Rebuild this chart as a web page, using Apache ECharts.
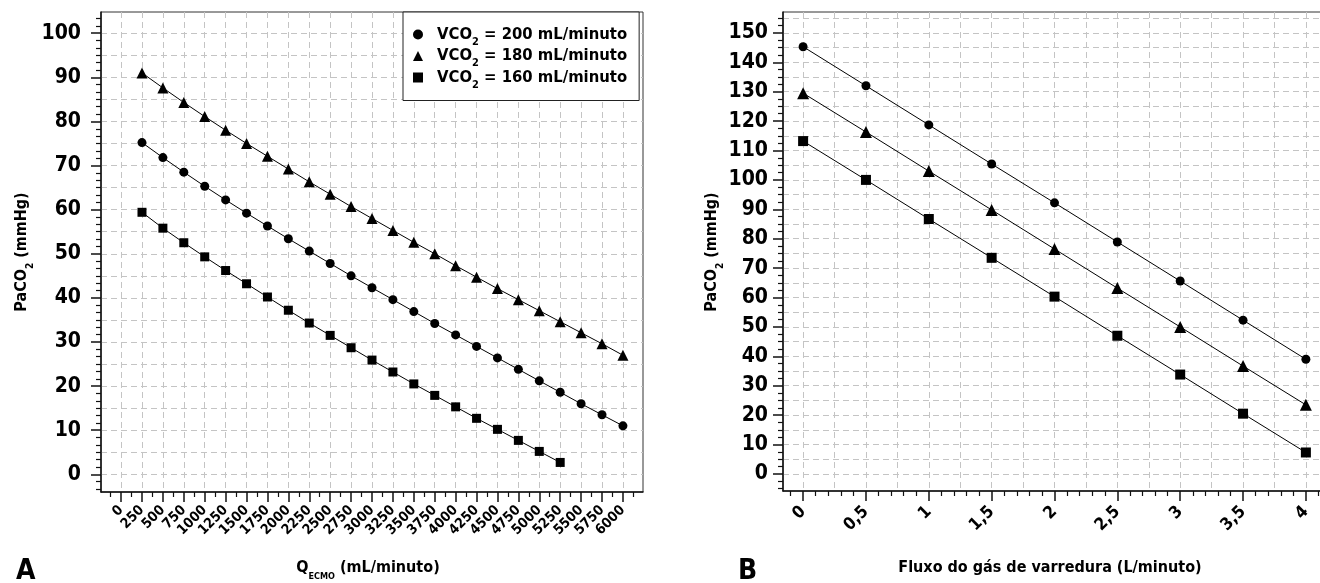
<!DOCTYPE html>
<html>
<head>
<meta charset="utf-8">
<script src="https://cdn.jsdelivr.net/npm/echarts@6/dist/echarts.min.js"></script>
<style>
html, body { margin: 0; padding: 0; background: #fff; }
#chart { width: 1320px; height: 583px; }
</style>
</head>
<body>
<div id="chart"></div>
<script>
// painel A: PaCO2 x fluxo de sangue (Q ECMO)
var qEcmo = [250, 500, 750, 1000, 1250, 1500, 1750, 2000, 2250, 2500, 2750, 3000,
    3250, 3500, 3750, 4000, 4250, 4500, 4750, 5000, 5250, 5500, 5750, 6000];
var ecmo200 = [75.2, 71.8, 68.5, 65.3, 62.2, 59.2, 56.3, 53.4, 50.6, 47.8, 45.0, 42.3,
    39.6, 36.9, 34.2, 31.6, 29.0, 26.4, 23.8, 21.2, 18.6, 16.0, 13.5, 11.0];
var ecmo180 = [91.0, 87.6, 84.3, 81.1, 78.0, 75.0, 72.1, 69.2, 66.3, 63.5, 60.7, 58.0,
    55.3, 52.6, 50.0, 47.3, 44.7, 42.1, 39.6, 37.1, 34.6, 32.1, 29.6, 27.0];
var ecmo160 = [59.4, 55.8, 52.5, 49.3, 46.2, 43.2, 40.2, 37.2, 34.3, 31.5, 28.7, 25.9,
    23.2, 20.5, 17.9, 15.3, 12.7, 10.2, 7.7, 5.2, 2.7];

// painel B: PaCO2 x fluxo do gas de varredura
var sweep = [0, 0.5, 1, 1.5, 2, 2.5, 3, 3.5, 4];
var sweep200 = [145.3, 132.0, 118.7, 105.4, 92.2, 78.9, 65.6, 52.3, 39.0];
var sweep180 = [129.5, 116.3, 103.0, 89.8, 76.5, 63.2, 50.0, 36.7, 23.5];
var sweep160 = [113.2, 100.0, 86.7, 73.5, 60.3, 47.0, 33.8, 20.5, 7.3];

var names = ['VCO2 = 200 mL/minuto', 'VCO2 = 180 mL/minuto', 'VCO2 = 160 mL/minuto'];

// rotulos dos eixos
var ticksAx = [0, 250, 500, 750, 1000, 1250, 1500, 1750, 2000, 2250, 2500, 2750, 3000,
    3250, 3500, 3750, 4000, 4250, 4500, 4750, 5000, 5250, 5500, 5750, 6000];
var ticksAy = [0, 10, 20, 30, 40, 50, 60, 70, 80, 90, 100];
var ticksBx = [0, 0.5, 1, 1.5, 2, 2.5, 3, 3.5, 4];
var ticksBy = [0, 10, 20, 30, 40, 50, 60, 70, 80, 90, 100, 110, 120, 130, 140, 150];

var FONT = "'DejaVu Sans Condensed', 'Liberation Sans Narrow', Roboto, sans-serif";

function steps(a, b, step, skip) {
    var out = [];
    var n = Math.round((b - a) / step);
    for (var i = 0; i <= n; i++) {
        var v = +(a + i * step).toFixed(4);
        if (skip && Math.abs(v / skip - Math.round(v / skip)) < 1e-6) continue;
        out.push(v);
    }
    return out;
}

function pairs(xs, ys) {
    var arr = [];
    for (var i = 0; i < ys.length; i++) {
        arr.push([xs[i], ys[i]]);
    }
    return arr;
}

// subscrito: texto principal centrado numa linha alta, indice colado embaixo
function richSet(size, lh) {
    var base = { fontWeight: 'bold', fontFamily: FONT, color: '#000' };
    return {
        m: Object.assign({ fontSize: size, lineHeight: lh }, base),
        f: Object.assign({ fontSize: size, lineHeight: lh, padding: [0, 0, 0, 9] }, base),
        s: Object.assign({ fontSize: Math.round(size * 0.65), lineHeight: 10, verticalAlign: 'bottom' }, base),
        e: Object.assign({ fontSize: Math.round(size * 0.55), lineHeight: 9, verticalAlign: 'bottom' }, base)
    };
}
var richLegend = richSet(16.5, 26);
var richTitle = richSet(16, 26);

var gA = { left: 101, top: 12, width: 542, height: 480 };
var gB = { left: 783, top: 12, width: 543, height: 479 };
var rangeA = { x: [-240, 6240], y: [-4, 104.8] };
var rangeB = { x: [-0.16, 4.16], y: [-5.8, 157.1] };

function grid(g, border) {
    return {
        left: g.left, top: g.top, width: g.width, height: g.height,
        outerBoundsMode: 'none', containLabel: false,
        show: border, borderColor: '#333', borderWidth: 1, backgroundColor: 'transparent'
    };
}

function baseAxis(idx, ext) {
    return {
        type: 'value', gridIndex: idx, min: ext[0], max: ext[1],
        axisLine: { show: false, onZero: false }, axisTick: { show: false },
        axisLabel: { show: false }, splitLine: { show: false }, minorTick: { show: false }
    };
}

function mainAxis(idx, ext, ticks, labelOpt) {
    var ax = baseAxis(idx, ext);
    ax.axisLine = { show: true, onZero: false, lineStyle: { color: '#111', width: 1.5 } };
    ax.axisTick = { show: true, customValues: ticks, length: 10, lineStyle: { color: '#111', width: 1.5 } };
    ax.axisLabel = Object.assign({
        show: true, customValues: ticks, color: '#000', fontWeight: 'bold', fontFamily: FONT,
        formatter: function (v) { return String(v); }
    }, labelOpt);
    return ax;
}

function minorAxis(idx, ext, ticks) {
    var ax = baseAxis(idx, ext);
    ax.axisTick = { show: true, customValues: ticks, length: 5, lineStyle: { color: '#111', width: 1.2 } };
    return ax;
}

function gridAxis(idx, ext, ticks, step) {
    var ax = baseAxis(idx, ext);
    ax.minInterval = step;
    ax.maxInterval = step;
    ax.axisTick = { show: false, customValues: ticks };
    ax.splitLine = { show: true, lineStyle: { color: '#c4c4c4', width: 1, type: [6, 4] } };
    return ax;
}

var commaFmt = function (v) { return String(v).replace('.', ','); };

var xAxes = [
    mainAxis(0, rangeA.x, ticksAx, { rotate: 45, fontSize: 14, margin: 16 }),
    minorAxis(1, rangeA.x, steps(-125, 6125, 250)),
    gridAxis(2, rangeA.x, ticksAx, 250),
    mainAxis(3, rangeB.x, ticksBx, { rotate: 45, fontSize: 17, margin: 18, formatter: commaFmt }),
    minorAxis(4, rangeB.x, steps(-0.1, 4.1, 0.1, 0.5)),
    gridAxis(5, rangeB.x, steps(0, 4, 0.25), 0.25)
];
var yAxes = [
    mainAxis(0, rangeA.y, ticksAy, { fontSize: 21, margin: 20 }),
    minorAxis(1, rangeA.y, steps(-10 / 3, 310 / 3, 5 / 3, 10)),
    gridAxis(2, rangeA.y, steps(0, 100, 5), 5),
    mainAxis(3, rangeB.y, ticksBy, { fontSize: 21, margin: 15 }),
    minorAxis(4, rangeB.y, steps(-5, 155, 2.5, 10)),
    gridAxis(5, rangeB.y, steps(0, 155, 5), 5)
];

function line(name, data, axis, symbol, size) {
    return {
        name: name, type: 'line', xAxisIndex: axis, yAxisIndex: axis,
        data: data, symbol: symbol, symbolSize: size, showAllSymbol: true,
        lineStyle: { color: '#000', width: 1 },
        itemStyle: { color: '#000', borderWidth: 0 },
        emphasis: { disabled: true }, z: 3
    };
}

var chart = echarts.init(document.getElementById('chart'), null, { renderer: 'canvas' });

var option = {
    animation: false,
    backgroundColor: '#fff',
    textStyle: { fontFamily: FONT },
    grid: [grid(gA, true), grid(gA, false), grid(gA, false), grid(gB, true), grid(gB, false), grid(gB, false)],
    xAxis: xAxes,
    yAxis: yAxes,
    legend: {
        left: 403, top: 12, orient: 'vertical',
        padding: [14, 12, 10, 10], itemGap: 0,
        itemWidth: 10, itemHeight: 10,
        backgroundColor: '#fff', borderColor: '#222', borderWidth: 1,
        selectedMode: false,
        data: [
            { name: names[0], icon: 'circle' },
            { name: names[1], icon: 'triangle' },
            { name: names[2], icon: 'rect' }
        ],
        itemStyle: { color: '#000' },
        textStyle: { rich: richLegend },
        formatter: function (name) {
            return '{f|VCO}{s|2}{m|' + name.slice(4) + '}';
        }
    },
    series: [
        line(names[0], pairs(qEcmo, ecmo200), 0, 'circle', 9),
        line(names[1], pairs(qEcmo, ecmo180), 0, 'triangle', 11),
        line(names[2], pairs(qEcmo, ecmo160), 0, 'rect', 9),
        line(names[0], pairs(sweep, sweep200), 3, 'circle', 9),
        line(names[1], pairs(sweep, sweep180), 3, 'triangle', 12),
        line(names[2], pairs(sweep, sweep160), 3, 'rect', 10)
    ],
    graphic: [
        { type: 'text', left: 16, top: 558, style: { text: 'A', font: 'bold 28px ' + FONT, fill: '#000' } },
        { type: 'text', left: 738, top: 558, style: { text: 'B', font: 'bold 28px ' + FONT, fill: '#000' } },
        { type: 'text', x: 22, y: 252, rotation: Math.PI / 2,
          style: { text: '{m|PaCO}{s|2}{m| (mmHg)}', rich: richTitle, align: 'center', verticalAlign: 'middle' } },
        { type: 'text', x: 712, y: 252, rotation: Math.PI / 2,
          style: { text: '{m|PaCO}{s|2}{m| (mmHg)}', rich: richTitle, align: 'center', verticalAlign: 'middle' } },
        { type: 'text', x: 368, y: 568,
          style: { text: '{m|Q}{e|ECMO}{m| (mL/minuto)}', rich: richTitle, align: 'center', verticalAlign: 'middle' } },
        { type: 'text', x: 1050, y: 568,
          style: { text: '{m|Fluxo do gás de varredura (L/minuto)}', rich: richTitle, align: 'center', verticalAlign: 'middle' } }
    ]
};

chart.setOption(option);
</script>
</body>
</html>
